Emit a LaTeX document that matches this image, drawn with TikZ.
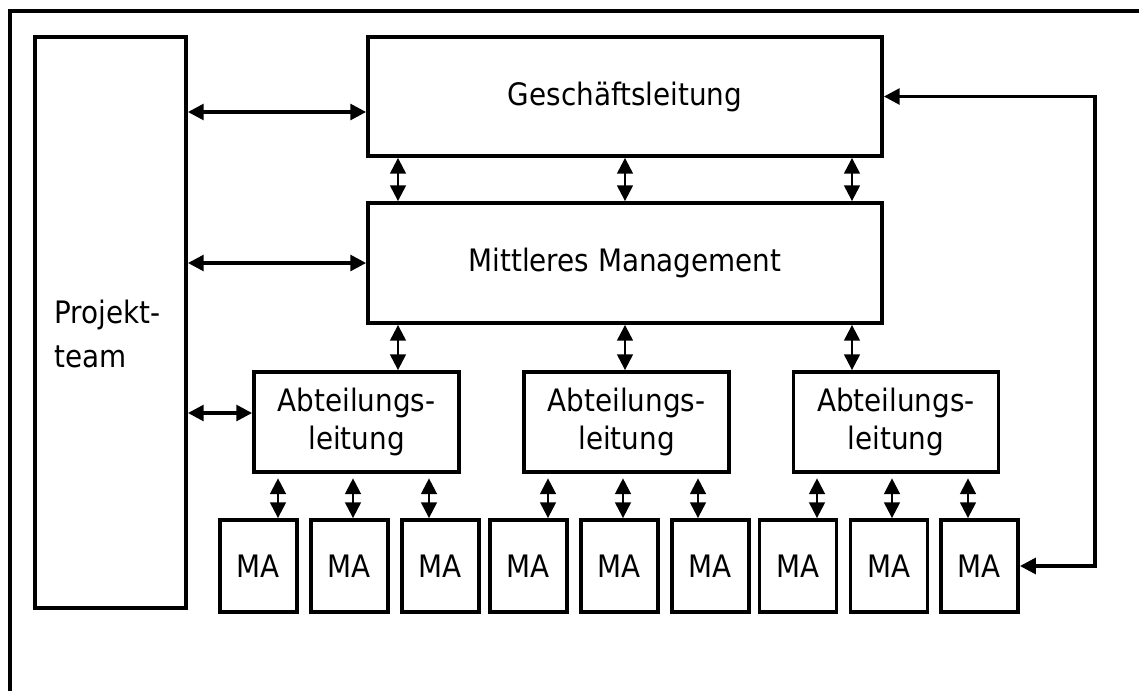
\documentclass[tikz,border=0pt]{standalone}
\usepackage{fontspec}
\setmainfont{DejaVu Sans Condensed}
\usetikzlibrary{arrows.meta}

\tikzset{
  kasten/.style={draw,line width=2.2pt,inner sep=0pt,align=center,
    font=\fontsize{17.6}{21.5}\selectfont},
  spitze/.tip={Triangle[length=9pt,width=9pt]},
  pfeil/.style={spitze-spitze,line width=1.9pt},
  kpfeil/.style={spitze-spitze,line width=1.3pt},
}

\begin{document}
\begin{tikzpicture}[x=0.02cm,y=-0.02cm]
    \useasboundingbox(0,0)rectangle(1139,691);
    % 外框
    \draw[line width=2.2pt](10,691)--(10,11)--(1139,11);
    % 绘制方框
    \node[kasten,minimum width=3.02cm,minimum height=11.42cm](pt)at(110.5,322.5){};
    \node[anchor=west,align=left,inner sep=0pt,font=\fontsize{17.6}{25.5}\selectfont](ptlabel)at(54,334){Projekt-\\team};
    \node[kasten,minimum width=10.28cm,minimum height=2.38cm](gl)at(625,96.5){Geschäftsleitung};
    \node[kasten,minimum width=10.28cm,minimum height=2.4cm](mm)at(625,263){Mittleres Management};
    \node[kasten,minimum width=4.1cm,minimum height=2cm](al1)at(356.5,422){Abteilungs-\\leitung};
    \node[kasten,minimum width=4.1cm,minimum height=2cm](al2)at(626.5,422){Abteilungs-\\leitung};
    \node[kasten,minimum width=4.1cm,minimum height=2cm](al3)at(896,422){Abteilungs-\\leitung};
    \node[kasten,minimum width=1.54cm,minimum height=1.84cm](ma1)at(258.5,566){MA};
    \node[kasten,minimum width=1.54cm,minimum height=1.84cm](ma2)at(349.5,566){MA};
    \node[kasten,minimum width=1.54cm,minimum height=1.84cm](ma3)at(440.5,566){MA};
    \node[kasten,minimum width=1.54cm,minimum height=1.84cm](ma4)at(528.5,566){MA};
    \node[kasten,minimum width=1.54cm,minimum height=1.84cm](ma5)at(619.5,566){MA};
    \node[kasten,minimum width=1.54cm,minimum height=1.84cm](ma6)at(710.5,566){MA};
    \node[kasten,minimum width=1.54cm,minimum height=1.84cm](ma7)at(798,566){MA};
    \node[kasten,minimum width=1.54cm,minimum height=1.84cm](ma8)at(889,566){MA};
    \node[kasten,minimum width=1.54cm,minimum height=1.84cm](ma9)at(979.5,566){MA};
    % Projektteam 的箭头
    \draw[pfeil](pt.east|-0,112)--(gl.west|-0,112);
    \draw[pfeil](pt.east|-mm.west)--(mm.west);
    \draw[pfeil](pt.east|-0,413)--(al1.west|-0,413);
    % 上下箭头
    \draw[kpfeil](gl.south-|398,0)--(mm.north-|398,0);
    \draw[kpfeil](gl.south-|625,0)--(mm.north-|625,0);
    \draw[kpfeil](gl.south-|852,0)--(mm.north-|852,0);
    \draw[kpfeil](mm.south-|398,0)--(al1.north-|398,0);
    \draw[kpfeil](mm.south-|625,0)--(al2.north-|625,0);
    \draw[kpfeil](mm.south-|852,0)--(al3.north-|852,0);
    \draw[kpfeil,shorten <=2.5pt](al1.south-|278,0)--(ma1.north-|278,0);
    \draw[kpfeil,shorten <=2.5pt](al1.south-|353,0)--(ma2.north-|353,0);
    \draw[kpfeil,shorten <=2.5pt](al1.south-|429,0)--(ma3.north-|429,0);
    \draw[kpfeil,shorten <=2.5pt](al2.south-|548,0)--(ma4.north-|548,0);
    \draw[kpfeil,shorten <=2.5pt](al2.south-|623,0)--(ma5.north-|623,0);
    \draw[kpfeil,shorten <=2.5pt](al2.south-|698,0)--(ma6.north-|698,0);
    \draw[kpfeil,shorten <=2.5pt](al3.south-|817,0)--(ma7.north-|817,0);
    \draw[kpfeil,shorten <=2.5pt](al3.south-|892,0)--(ma8.north-|892,0);
    \draw[kpfeil,shorten <=2.5pt](al3.south-|968,0)--(ma9.north-|968,0);
    % 反馈线
    \coordinate(fb)at(1095,0);
    \draw[pfeil](gl.east)--(gl.east-|fb)--(fb|-ma9.east)--(ma9.east);
\end{tikzpicture}
\end{document}
